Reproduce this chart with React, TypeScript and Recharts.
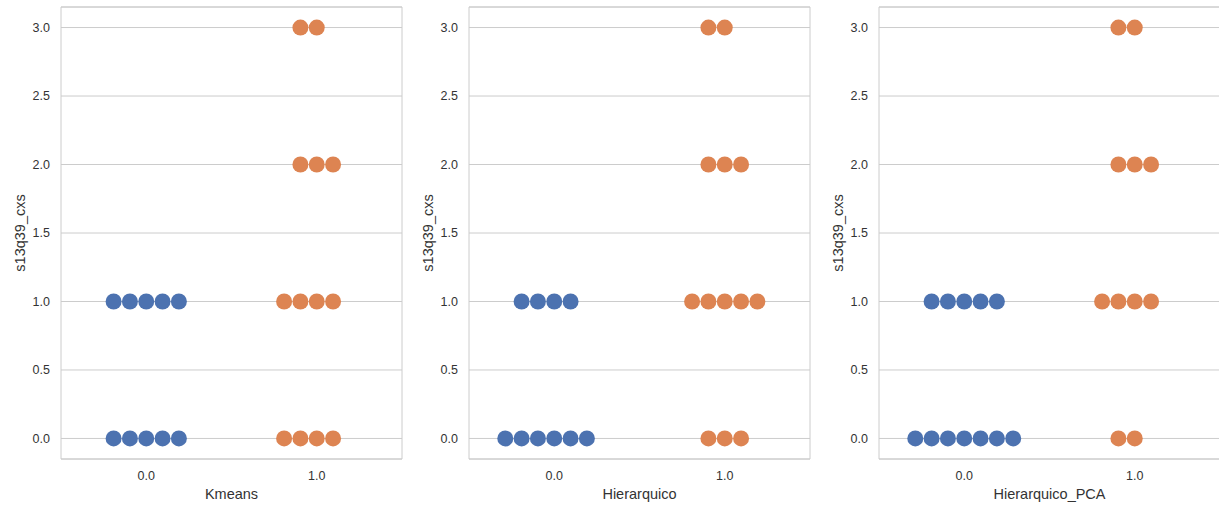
import { ScatterChart, Scatter, XAxis, YAxis, CartesianGrid, ReferenceArea } from "recharts";

const BLUE = "#4c72b0";
const ORANGE = "#dd8452";
const GRID = "#cccccc";
const TEXT = "#333333";
const FONT = '"Liberation Sans", Arial, sans-serif';

// swarm spacing in category units (one marker diameter)
const DOT_STEP = 0.0957;
const DOT_R = 8;

const yTicks = [0, 0.5, 1, 1.5, 2, 2.5, 3];
const xTicks = [0, 1];
const yLabel = "s13q39_cxs";

// raw s13q39_cxs values per cluster
const kmeans0 = [0, 0, 0, 0, 0, 1, 1, 1, 1, 1];
const kmeans1 = [0, 0, 0, 0, 1, 1, 1, 1, 2, 2, 2, 3, 3];
const hier0 = [0, 0, 0, 0, 0, 0, 1, 1, 1, 1];
const hier1 = [0, 0, 0, 1, 1, 1, 1, 1, 2, 2, 2, 3, 3];
const pca0 = [0, 0, 0, 0, 0, 0, 0, 1, 1, 1, 1, 1];
const pca1 = [0, 0, 1, 1, 1, 1, 2, 2, 2, 3, 3];

const panels = [
  { name: "Kmeans", groups: [kmeans0, kmeans1] },
  { name: "Hierarquico", groups: [hier0, hier1] },
  { name: "Hierarquico_PCA", groups: [pca0, pca1] },
];
const panelLefts = [0, 408, 818];
const colors = [BLUE, ORANGE];

const swarm = (values: number[], cat: number) => {
  const counts = new Map<number, number>();
  values.forEach((v) => counts.set(v, (counts.get(v) || 0) + 1));
  const pts: { x: number; y: number }[] = [];
  counts.forEach((n, v) => {
    for (let k = -Math.floor(n / 2); k < Math.ceil(n / 2); k++) {
      pts.push({ x: cat + k * DOT_STEP, y: v });
    }
  });
  return pts;
};

const tickStyle = { fill: TEXT, fontSize: 12.5, fontFamily: FONT };

function Panel({ name, groups }: { name: string; groups: number[][] }) {
  return (
    <ScatterChart width={408} height={505} margin={{ top: 7, right: 6, bottom: 0, left: 0 }}>
      <CartesianGrid vertical={false} stroke={GRID} strokeWidth={1} />
      <XAxis
        type="number"
        dataKey="x"
        domain={[-0.5, 1.5]}
        ticks={xTicks}
        tickFormatter={(v: number) => v.toFixed(1)}
        axisLine={false}
        tickLine={false}
        tickSize={0}
        tickMargin={12}
        height={46}
        tick={tickStyle}
        label={{ value: name, position: "insideBottom", offset: 6, fill: TEXT, fontSize: 14.5, fontFamily: FONT }}
      />
      <YAxis
        type="number"
        dataKey="y"
        domain={[-0.15, 3.15]}
        ticks={yTicks}
        tickFormatter={(v: number) => v.toFixed(1)}
        axisLine={false}
        tickLine={false}
        tickSize={0}
        tickMargin={11}
        width={61}
        tick={tickStyle}
        label={{ value: yLabel, angle: -90, position: "center", dx: -10.5, fill: TEXT, fontSize: 14.5, fontFamily: FONT }}
      />
      <ReferenceArea x1={-0.5} x2={1.5} y1={-0.15} y2={3.15} fill="none" fillOpacity={0} stroke={GRID} strokeWidth={1} />
      {groups.map((g, i) => (
        <Scatter
          key={i}
          data={swarm(g, xTicks[i])}
          isAnimationActive={false}
          shape={(p: any) => <circle cx={p.cx} cy={p.cy} r={DOT_R} fill={colors[i]} />}
        />
      ))}
    </ScatterChart>
  );
}

export default function App() {
  return (
    <div style={{ position: "absolute", left: 0, top: 0, width: 1219, height: 505, overflow: "hidden", background: "#fff" }}>
      {panels.map((p, i) => (
        <div key={p.name} style={{ position: "absolute", left: panelLefts[i], top: 0 }}>
          <Panel name={p.name} groups={p.groups} />
        </div>
      ))}
    </div>
  );
}
